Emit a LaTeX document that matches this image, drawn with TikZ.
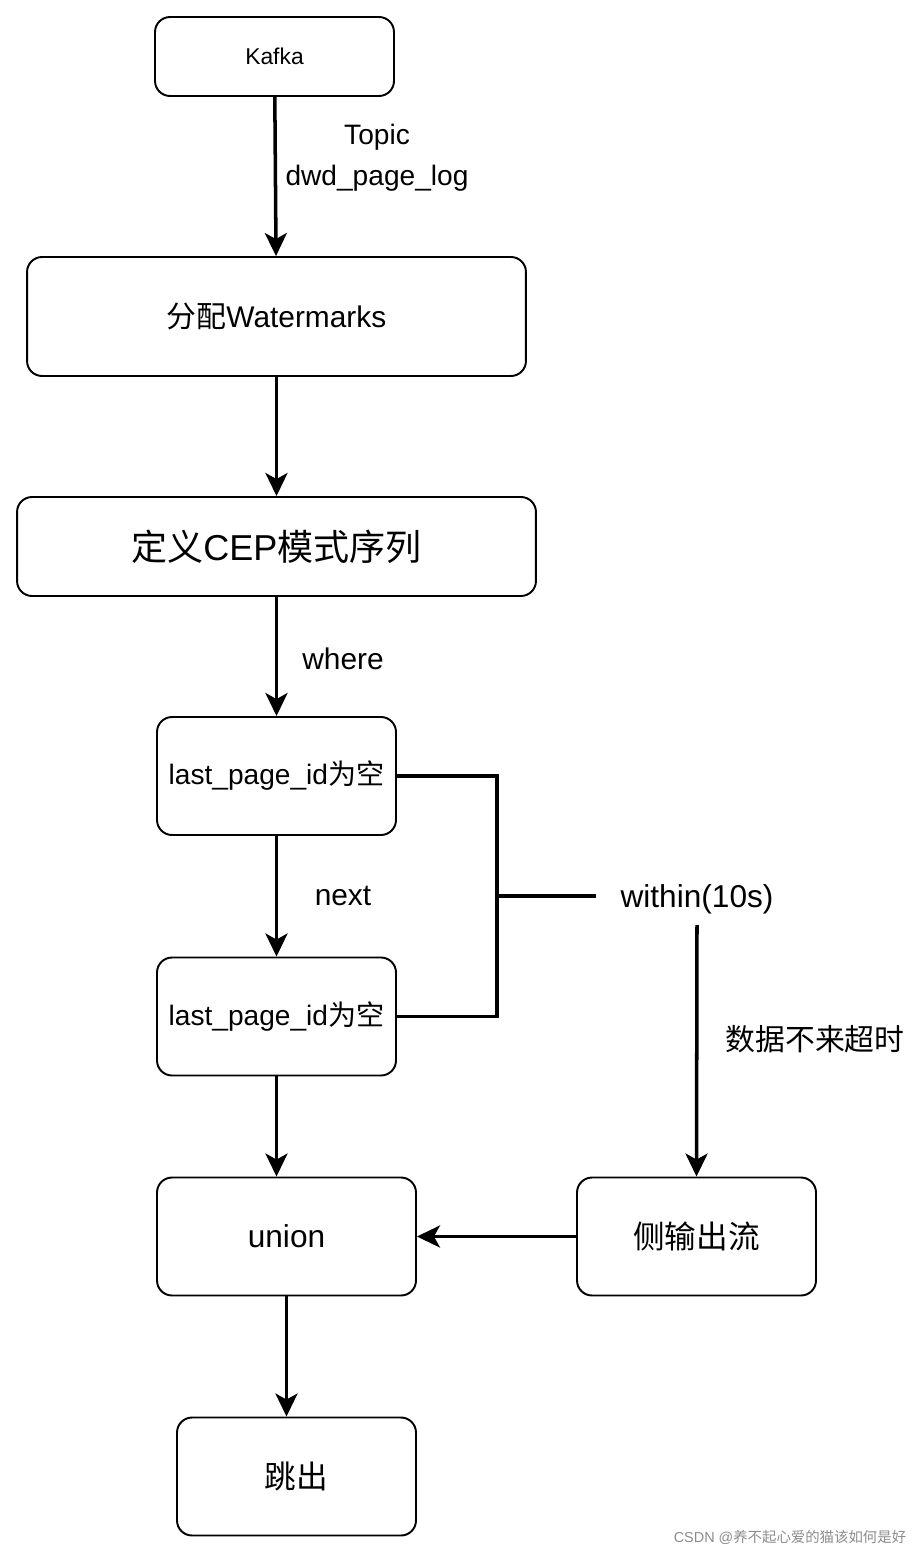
\documentclass[tikz,border=0pt]{standalone}
\usepackage{fontspec}
\setmainfont{Liberation Sans}
\newfontfamily\cjk{Noto Sans CJK SC}
\usetikzlibrary{arrows.meta}
\newcommand{\zh}[1]{{\cjk #1}}
\newcommand{\fs}[1]{\fontsize{#1}{#1}\selectfont}

\begin{document}
\begin{tikzpicture}[x=0.02cm,y=-0.02cm,
    box/.style={draw,rounded corners=0.3cm,line width=1.1pt,minimum width=4.78cm,minimum height=2.36cm,font=\fs{18}},
    arr/.style={line width=2pt,-{Stealth[length=0.46cm,width=0.44cm,inset=0.12cm]}},
    lab/.style={font=\fs{17}}]
    \useasboundingbox (0,0) rectangle (923,1554);

    \draw node at (274.5,56.5)[box,name=kafka,minimum height=1.58cm,font=\fs{13}]{Kafka};
    \draw node at (276.5,316.5)[box,name=wm,minimum width=9.98cm,minimum height=2.38cm,font=\fs{17}]{\zh{分配}Watermarks};
    \draw node at (276.5,546.5)[box,name=cep,minimum width=10.38cm,minimum height=1.98cm,font=\fs{20.5}]{\zh{定义}CEP\zh{模式序列}};
    \draw node at (276.5,776)[box,name=lp1,font=\fs{16}]{last\_page\_id\zh{为空}};
    \draw node at (276.5,1016.5)[box,name=lp2,font=\fs{16}]{last\_page\_id\zh{为空}};
    \draw node at (286.5,1236.5)[box,name=union,minimum width=5.18cm]{union};
    \draw node at (696.5,1236.5)[box,name=side]{\zh{侧输出流}};
    \draw node at (296.5,1476.5)[box,name=jump]{\zh{跳出}};

    \draw node at (377,137)[lab,font=\fs{16},name=topic]{Topic};
    \draw node at (377,178)[lab,font=\fs{16},name=topicname]{dwd\_page\_log};
    \draw node at (343,659)[lab,name=where]{where};
    \draw node at (343,896)[lab,name=next]{next};
    \draw node at (697,899)[font=\fs{18},inner xsep=0.48cm,inner ysep=0.22cm,name=within]{within(10s)};
    \draw node at (815,1039)[lab,name=timeout]{\zh{数据不来超时}};
    \coordinate (br) at (497,896);

    \draw[arr](kafka) -- (wm);
    \draw[arr](wm) -- (cep);
    \draw[arr](cep) -- (lp1);
    \draw[arr](lp1) -- (lp2);
    \draw[arr](lp2.south) -- (lp2.south |- union.north);
    \draw[arr](side) -- (union);
    \draw[arr](union.south) -- (union.south |- jump.north);
    \draw[arr](within.south) -- (side.north);

    \draw[line width=2pt](lp1.east) -| (br) |- (lp2.east);
    \draw[line width=2pt](br) -- (br -| within.west);

    \draw node at (790,1537)[text=black!45,font=\fs{8.2},name=credit]{CSDN @\zh{养不起心爱的猫该如何是好}};
\end{tikzpicture}
\end{document}
